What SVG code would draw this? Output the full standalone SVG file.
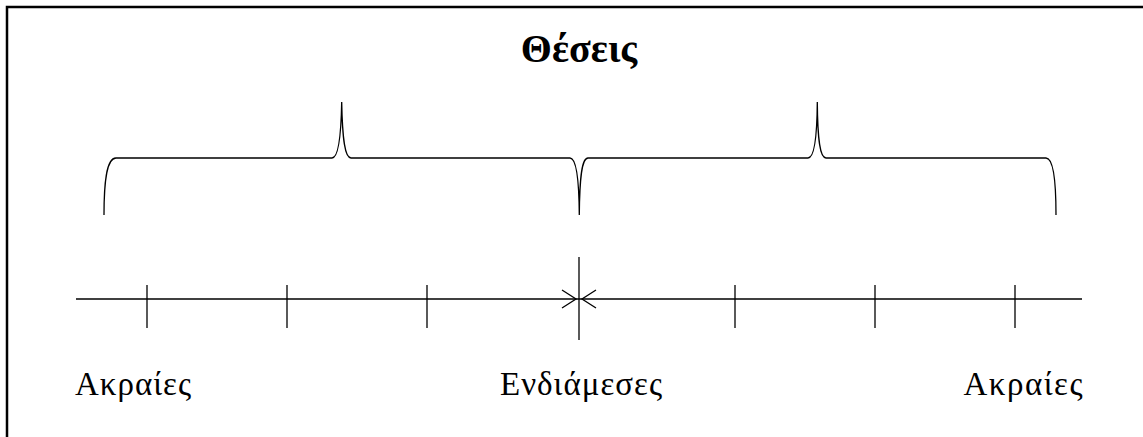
<svg xmlns="http://www.w3.org/2000/svg" width="1143" height="437" viewBox="0 0 1143 437">
<style>
.ln{fill:none;stroke:#000;stroke-width:1.3}
.lbl{font-family:"Liberation Serif","DejaVu Serif",serif;font-size:33px;fill:#000}
.ttl{font-family:"Liberation Serif","DejaVu Serif",serif;font-size:40px;font-weight:bold;fill:#000}
</style>
<rect width="1143" height="437" fill="#fff"/>
<path d="M7 437V7H1143" fill="none" stroke="#000" stroke-width="2.5"/>
<g id="title"><text class="ttl" x="579" y="62" text-anchor="middle">Θέσεις</text></g>
<g id="connectors">
<path class="ln" d="M104 215C104 185 106 158 116 158H332C338 158 341 140 341.7 102C342.4 140 345 158 351 158H570C576 158 579 176 579.3 215C579.6 176 582 158 588 158H808C814 158 817 140 817.3 102C817.6 140 820 158 826 158H1046C1054 158 1056 185 1056 215"/>
<line class="ln" x1="76" y1="299" x2="1082" y2="299"/>
<g class="ln">
<line x1="147" y1="285" x2="147" y2="328"/>
<line x1="287" y1="285" x2="287" y2="328"/>
<line x1="427" y1="285" x2="427" y2="328"/>
<line x1="735" y1="285" x2="735" y2="328"/>
<line x1="875" y1="285" x2="875" y2="328"/>
<line x1="1015" y1="285" x2="1015" y2="328"/>
<line x1="579" y1="257" x2="579" y2="340"/>
<path d="M562 290L576 299L562 308M596 290L582 299L596 308"/>
</g>
</g>
<g id="left"><text class="lbl" x="133" y="395" text-anchor="middle" textLength="116">Ακραίες</text></g>
<g id="middle"><text class="lbl" x="581" y="395" text-anchor="middle" textLength="162">Ενδιάμεσες</text></g>
<g id="right"><text class="lbl" x="1023" y="395" text-anchor="middle" textLength="119">Ακραίες</text></g>
</svg>
